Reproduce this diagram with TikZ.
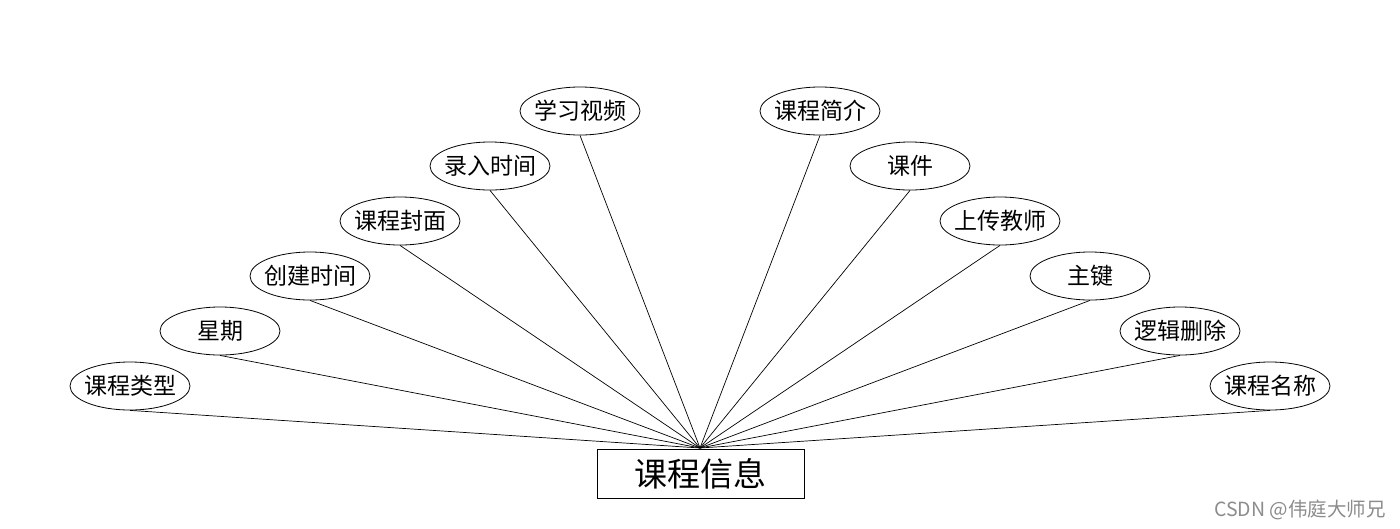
\documentclass[tikz,border=0pt]{standalone}
\usepackage{fontspec}
\newfontfamily\cjk{Noto Sans CJK SC}
\usetikzlibrary{shapes.geometric}
\begin{document}
\begin{tikzpicture}[x=1pt,y=-1pt,
  attr/.style={ellipse,draw,line width=0.8pt,minimum width=120pt,minimum height=48pt,inner ysep=0pt,inner xsep=-14pt,font=\cjk\fontsize{23}{26}\selectfont},
  ent/.style={rectangle,draw,line width=0.8pt,minimum width=207pt,minimum height=49pt,inner sep=0pt,font=\cjk\fontsize{33}{38}\selectfont},
  link/.style={line width=0.7pt}]
\fill[white] (0,0) rectangle (1400,528);
\useasboundingbox (0,0) rectangle (1400,528);
\node[ent] (e) at (700.5,473.5) {课程信息};
\coordinate (c) at (700,448);
\node[attr] (a1) at (130,386) {课程类型};
\node[attr] (a2) at (220,331) {星期};
\node[attr] (a3) at (310,276) {创建时间};
\node[attr] (a4) at (400,221) {课程封面};
\node[attr] (a5) at (490,166) {录入时间};
\node[attr] (a6) at (580,111) {学习视频};
\node[attr] (a7) at (820,111) {课程简介};
\node[attr] (a8) at (910,166) {课件};
\node[attr] (a9) at (1000,221) {上传教师};
\node[attr] (a10) at (1090,276) {主键};
\node[attr] (a11) at (1180,331) {逻辑删除};
\node[attr] (a12) at (1270,386) {课程名称};
\foreach \i in {1,...,12} {\draw[link] (a\i.south) -- (c);}
\node[anchor=east,text=black!45,font=\cjk\fontsize{19.5}{22}\selectfont,inner sep=0pt] (wm) at (1386,510) {CSDN @伟庭大师兄};
\end{tikzpicture}
\end{document}
